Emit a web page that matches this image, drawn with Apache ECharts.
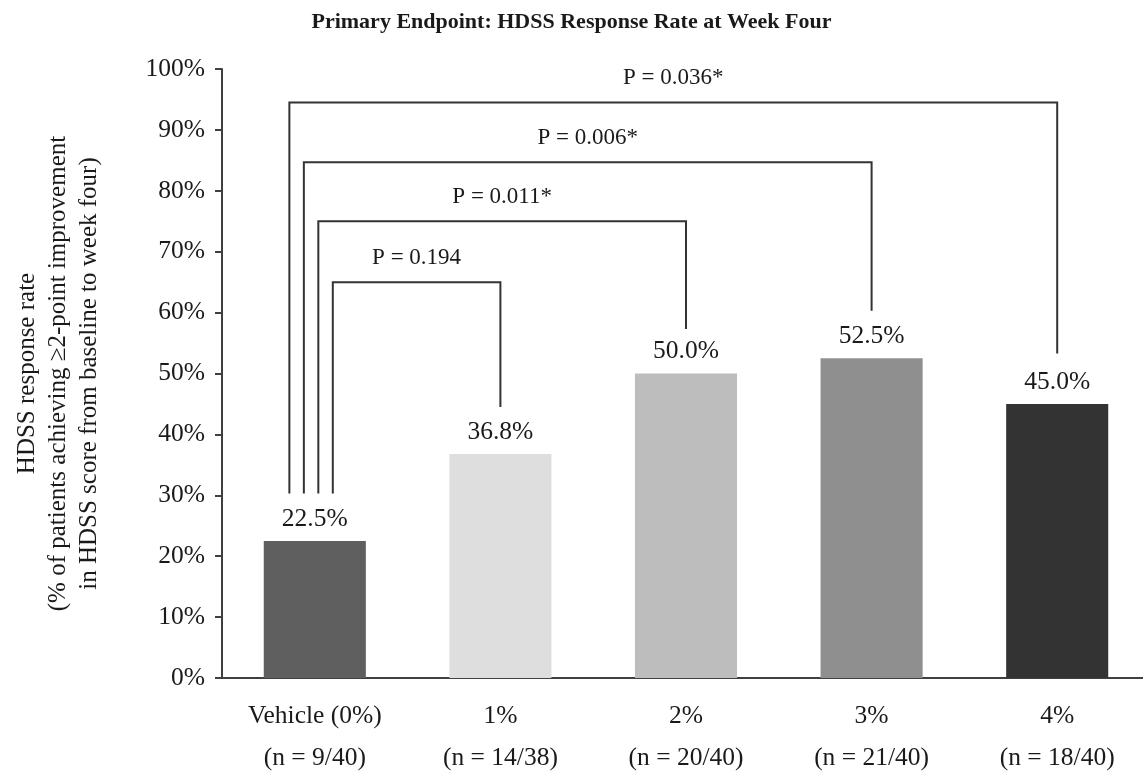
<!DOCTYPE html>
<html>
<head>
<meta charset="utf-8">
<script src="https://cdn.jsdelivr.net/npm/echarts@6/dist/echarts.min.js"></script>
<style>
  html, body { margin: 0; padding: 0; background: #ffffff; }
  #chart { width: 1143px; height: 775px; }
</style>
</head>
<body>
<div id="chart"></div>
<script>
// Treatment groups and their responder counts
const categories = ['Vehicle (0%)', '1%', '2%', '3%', '4%'];
const groupCounts = ['(n = 9/40)', '(n = 14/38)', '(n = 20/40)', '(n = 21/40)', '(n = 18/40)'];
// HDSS response rate at week four, percent
const responseRates = [22.5, 36.8, 50.0, 52.5, 45.0];
const yTickValues = [0, 10, 20, 30, 40, 50, 60, 70, 80, 90, 100];

// Pairwise comparisons of each dose against vehicle
const comparisonTargets = [1, 2, 3, 4];
const comparisonLabels = ['P = 0.194', 'P = 0.011*', 'P = 0.006*', 'P = 0.036*'];
const bracketTops = [65, 75, 84.7, 94.5];
const bracketLeftEnds = [30.3, 30.3, 30.3, 30.3];
const bracketRightEnds = [44.5, 57.3, 60.3, 53.3];

const barColors = ['#5f5f5f', '#dedede', '#bdbdbd', '#8f8f8f', '#333333'];
const FONT = '"Liberation Serif", "Times New Roman", Times, serif';
const INK = '#1a1a1a';

// Legs of the nested brackets fan out across the vehicle bar (fraction of band width)
const legOffset = i => 0.097 - i * 0.078;

const bracketData = comparisonTargets.map((t, i) =>
  [t, bracketTops[i], bracketLeftEnds[i], bracketRightEnds[i]]);

const chart = echarts.init(document.getElementById('chart'), null, { renderer: 'canvas' });

chart.setOption({
  animation: false,
  backgroundColor: '#ffffff',
  title: {
    text: 'Primary Endpoint: HDSS Response Rate at Week Four',
    left: 'center',
    top: 6,
    textStyle: { fontFamily: FONT, fontSize: 22, fontWeight: 'bold', color: INK }
  },
  grid: { left: 222, top: 69, width: 928, height: 609, outerBoundsMode: 'none' },
  xAxis: {
    type: 'category',
    data: categories,
    axisTick: { show: false },
    axisLine: { lineStyle: { color: '#404040', width: 2 } },
    axisLabel: {
      interval: 0,
      margin: 17,
      lineHeight: 42,
      fontFamily: FONT,
      fontSize: 25.5,
      color: INK,
      formatter: (v, i) => v + '\n' + groupCounts[i]
    }
  },
  yAxis: {
    type: 'value',
    min: yTickValues[0],
    max: yTickValues[yTickValues.length - 1],
    interval: yTickValues[1] - yTickValues[0],
    splitLine: { show: false },
    axisLine: { show: true, lineStyle: { color: '#404040', width: 2 } },
    axisTick: { show: true, length: 7, lineStyle: { color: '#404040', width: 2 } },
    axisLabel: {
      margin: 17,
      fontFamily: FONT,
      fontSize: 25.5,
      color: INK,
      formatter: '{value}%'
    },
    name: 'HDSS response rate\n(% of patients achieving \u22652-point improvement\nin HDSS score from baseline to week four)',
    nameLocation: 'middle',
    nameRotate: 90,
    nameGap: 117,
    nameTextStyle: { fontFamily: FONT, fontSize: 25, color: INK, lineHeight: 31, align: 'center' }
  },
  series: [
    {
      type: 'bar',
      barWidth: '55%',
      data: responseRates.map((v, i) => ({ value: v, itemStyle: { color: barColors[i] } })),
      label: {
        show: true,
        position: 'top',
        distance: 9,
        fontFamily: FONT,
        fontSize: 25.5,
        color: INK,
        formatter: p => p.value.toFixed(1) + '%'
      },
      silent: true
    },
    {
      type: 'custom',
      data: bracketData,
      encode: { x: 0, y: 1 },
      clip: false,
      silent: true,
      z: 5,
      renderItem: (params, api) => {
        const i = params.dataIndex;
        const band = api.size([1, 0])[0];
        const x0 = api.coord([0, 0])[0] + band * legOffset(i);
        const x1 = api.coord([api.value(0), 0])[0];
        const yTop = api.coord([0, api.value(1)])[1];
        const yLeft = api.coord([0, api.value(2)])[1];
        const yRight = api.coord([0, api.value(3)])[1];
        return {
          type: 'group',
          children: [
            {
              type: 'polyline',
              shape: { points: [[x0, yLeft], [x0, yTop], [x1, yTop], [x1, yRight]] },
              style: { stroke: '#333333', lineWidth: 2, fill: null }
            },
            {
              type: 'text',
              x: (x0 + x1) / 2,
              y: yTop - 13,
              style: {
                text: comparisonLabels[i],
                align: 'center',
                verticalAlign: 'bottom',
                font: '23px ' + FONT,
                fill: INK
              }
            }
          ]
        };
      }
    }
  ]
});
</script>
</body>
</html>
